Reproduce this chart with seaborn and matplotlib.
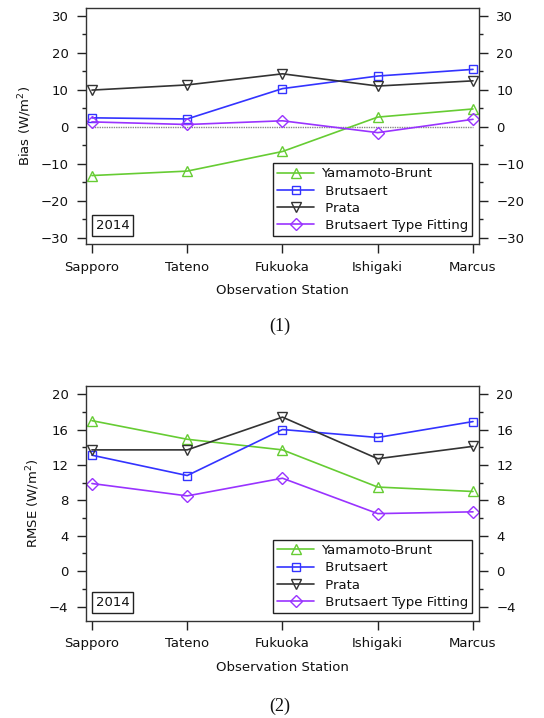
import matplotlib
matplotlib.use("Agg")
import matplotlib.pyplot as plt
from matplotlib.ticker import MultipleLocator
import seaborn as sns

# Stations and per-scheme statistics for 2014
stations = ["Sapporo", "Tateno", "Fukuoka", "Ishigaki", "Marcus"]
schemes = ["Yamamoto-Brunt", "Brutsaert", "Prata", "Brutsaert Type Fitting"]
legend_labels = ["Yamamoto-Brunt", " Brutsaert", " Prata", " Brutsaert Type Fitting"]

bias_yamamoto = [-13.2, -12.0, -6.7, 2.6, 4.8]
bias_brutsaert = [2.4, 2.1, 10.3, 13.7, 15.5]
bias_prata = [9.9, 11.3, 14.3, 11.0, 12.4]
bias_fitting = [1.3, 0.6, 1.6, -1.6, 2.0]

rmse_yamamoto = [17.0, 14.9, 13.7, 9.5, 9.0]
rmse_brutsaert = [13.1, 10.8, 16.0, 15.1, 16.9]
rmse_prata = [13.7, 13.7, 17.4, 12.7, 14.1]
rmse_fitting = [9.9, 8.5, 10.5, 6.5, 6.7]

year_label = "2014"

colors = ["#66cc33", "#3333ff", "#333333", "#9933ff"]
markers = ["^", "s", "v", "D"]
marker_sizes = [6.5, 6.0, 6.5, 6.0]

FS = 9.5

sns.set_theme(style="ticks")
plt.rcParams["font.family"] = ["DejaVu Sans"]
plt.rcParams["axes.linewidth"] = 1.0
plt.rcParams["text.color"] = "#111111"
plt.rcParams["axes.labelcolor"] = "#111111"
plt.rcParams["xtick.color"] = "#222222"
plt.rcParams["ytick.color"] = "#222222"
plt.rcParams["xtick.labelcolor"] = "#111111"
plt.rcParams["ytick.labelcolor"] = "#111111"

fig = plt.figure(figsize=(5.44, 7.18), dpi=100)
ax1 = fig.add_axes([0.158, 0.6602, 0.7225, 0.3287])
ax2 = fig.add_axes([0.158, 0.1355, 0.7225, 0.3273])


def draw_panel(ax, series, ylabel, ylim, major, minor, zero_line):
    if zero_line:
        ax.hlines(0, 0, len(stations) - 1, colors="#888888",
                  linestyles=(0, (1, 0.7)), linewidth=1.0, zorder=1)
    for vals, c, m, ms, lab in zip(series, colors, markers, marker_sizes, legend_labels):
        sns.lineplot(x=stations, y=vals, ax=ax, color=c, marker=m,
                     markersize=ms, markerfacecolor="none", markeredgecolor=c,
                     markeredgewidth=1.0, linewidth=1.2, label=lab, sort=False)
    ax.set_xlim(-0.063, len(stations) - 1 + 0.063)
    ax.set_ylim(*ylim)
    ax.yaxis.set_major_locator(MultipleLocator(major))
    ax.yaxis.set_minor_locator(MultipleLocator(minor))
    ax.tick_params(axis="y", which="major", direction="out", length=6.5,
                   width=1.0, left=True, right=True, labelleft=True,
                   labelright=True, labelsize=FS, pad=6)
    ax.tick_params(axis="y", which="minor", direction="out", length=3,
                   width=1.0, left=True, right=True)
    ax.tick_params(axis="x", which="major", direction="out", length=6.5,
                   width=1.0, labelsize=FS, pad=5.5)
    ax.set_xlabel("Observation Station", fontsize=FS, labelpad=7.5)
    ax.set_ylabel(ylabel, fontsize=FS, labelpad=5)
    for s in ax.spines.values():
        s.set_visible(True)
        s.set_color("#333333")
    leg = ax.legend(loc="lower right", bbox_to_anchor=(0.982, 0.034),
                    borderaxespad=0, fancybox=False, frameon=True,
                    edgecolor="#222222", framealpha=1, fontsize=FS,
                    handlelength=2.8, handletextpad=0.5, labelspacing=0.32,
                    borderpad=0.3)
    leg.get_frame().set_linewidth(1.0)
    ax.text(0.025, 0.05, year_label, transform=ax.transAxes, fontsize=FS,
            ha="left", va="bottom",
            bbox=dict(boxstyle="square,pad=0.3", facecolor="white",
                      edgecolor="#222222", linewidth=1.0))


draw_panel(ax1, [bias_yamamoto, bias_brutsaert, bias_prata, bias_fitting],
           "Bias (W/m$^2$)", (-31.7, 32.1), 10, 5, True)
draw_panel(ax2, [rmse_yamamoto, rmse_brutsaert, rmse_prata, rmse_fitting],
           "RMSE (W/m$^2$)", (-5.6, 20.95), 4, 2, False)

fig.text(0.515, 1 - 326 / 718, "(1)", ha="center", va="center",
         fontsize=13, family="Liberation Serif")
fig.text(0.515, 1 - 706 / 718, "(2)", ha="center", va="center",
         fontsize=13, family="Liberation Serif")

fig.savefig("out.png", dpi=100)
